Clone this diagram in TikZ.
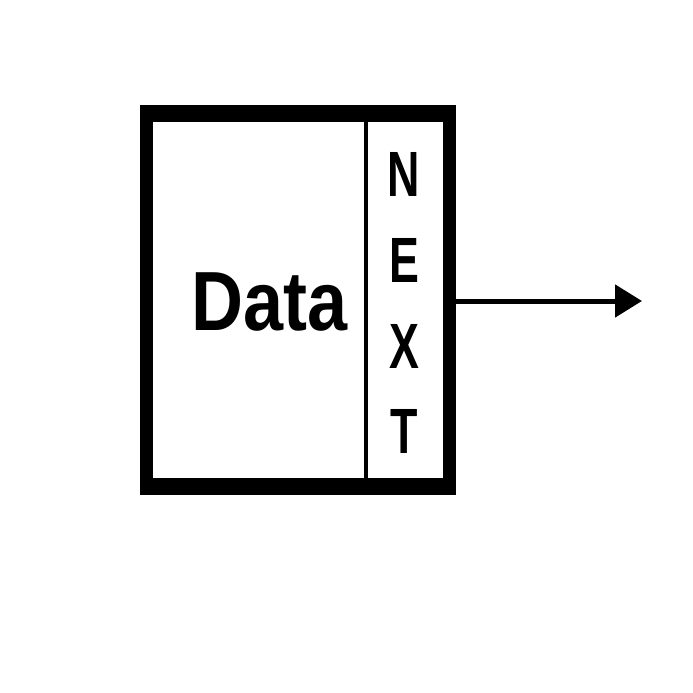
\documentclass[tikz,border=0pt]{standalone}
\usepackage{fontspec}
\setmainfont{Liberation Sans}
\usetikzlibrary{arrows.meta}
\tikzset{
  datatext/.style={inner sep=0pt, anchor=base, font=\fontsize{84}{84}\selectfont\bfseries},
  nextletter/.style={inner sep=0pt, anchor=base, font=\fontsize{64}{64}\selectfont\bfseries},
  link/.style={line width=5pt, -{Triangle[length=27pt, width=32pt]}}
}
\begin{document}
\begin{tikzpicture}[x=1pt, y=-1pt]
\useasboundingbox (0,0) rectangle (693,693);
\node[fill=black, minimum width=316pt, minimum height=390pt, inner sep=0pt] (box) at (298,300) {};
\node[fill=white, minimum width=290pt, minimum height=356pt, inner sep=0pt] (inner) at (298,300) {};
\coordinate (divtop) at (366,122);
\coordinate (divbot) at (366,478);
\draw[line width=4pt] (divtop) -- (divbot);
\node[datatext] (data) at (270,330) {\scalebox{0.857}[1]{Data}};
\node[nextletter] (n) at (404,196) {\scalebox{0.7}[1]{N}};
\node[nextletter] (e) at (404,282) {\scalebox{0.7}[1]{E}};
\node[nextletter] (x) at (404,368) {\scalebox{0.7}[1]{X}};
\node[nextletter] (t) at (404,453) {\scalebox{0.7}[1]{T}};
\coordinate (start) at (456,301);
\coordinate (tip) at (642,301);
\draw[link] (start) -- (tip);
\end{tikzpicture}
\end{document}
